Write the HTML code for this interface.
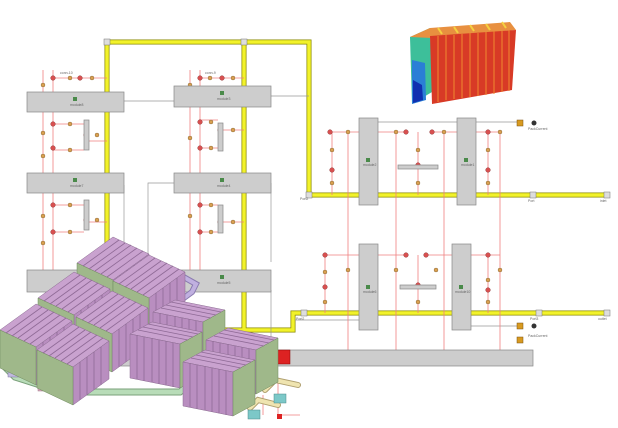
<!DOCTYPE html>
<html><head><meta charset="utf-8"><style>
html,body{margin:0;padding:0;background:#fff;}
svg{display:block;font-family:"Liberation Sans",sans-serif;}
.t{font-size:3.5px;fill:#666;}
</style></head><body>
<svg width="618" height="428" viewBox="0 0 618 428" xmlns="http://www.w3.org/2000/svg">
<defs>
<g id="lb">
  <polygon points="0,0 36,-26 72,-9 36,17" fill="#c9a2cf" stroke="#8a6a90" stroke-width="0.5"/>
  <polygon points="36,17 72,-9 72,29 36,55" fill="#b98ec0" stroke="#8a6a90" stroke-width="0.5"/>
  <polygon points="0,0 36,17 36,55 0,38" fill="#9fb88a" stroke="#6f8a5e" stroke-width="0.5"/>
  <g stroke="#8f6a96" stroke-width="0.8">
    <line x1="6" y1="3" x2="42" y2="-23"/><line x1="12" y1="6" x2="48" y2="-20"/>
    <line x1="18" y1="8" x2="54" y2="-18"/><line x1="24" y1="11" x2="60" y2="-15"/>
    <line x1="30" y1="14" x2="66" y2="-12"/>
    <line x1="43" y1="12" x2="43" y2="50"/><line x1="50" y1="7" x2="50" y2="45"/>
    <line x1="57" y1="2" x2="57" y2="40"/><line x1="64" y1="-3" x2="64" y2="35"/>
  </g>
</g>
<g id="rb">
  <polygon points="0,0 50,10 28,22 -22,12" fill="#c9a2cf" stroke="#8a6a90" stroke-width="0.5"/>
  <polygon points="-22,12 28,22 28,66 -22,56" fill="#b98ec0" stroke="#8a6a90" stroke-width="0.5"/>
  <polygon points="50,10 28,22 28,66 50,54" fill="#9fb88a" stroke="#6f8a5e" stroke-width="0.5"/>
  <g stroke="#8f6a96" stroke-width="0.8">
    <line x1="-4" y1="2" x2="46" y2="12"/><line x1="-9" y1="5" x2="41" y2="15"/>
    <line x1="-14" y1="8" x2="36" y2="18"/>
    <line x1="-15" y1="13" x2="-15" y2="57"/><line x1="-8" y1="15" x2="-8" y2="59"/>
    <line x1="0" y1="16" x2="0" y2="60"/><line x1="7" y1="18" x2="7" y2="62"/>
    <line x1="14" y1="19" x2="14" y2="63"/><line x1="21" y1="21" x2="21" y2="65"/>
  </g>
</g>
<g id="nd"><circle r="2" fill="#d9a050" stroke="#7a5a30" stroke-width="0.4"/></g>
<g id="rn"><circle r="2.3" fill="#d85050" stroke="#802020" stroke-width="0.4"/></g>
</defs>

<g stroke="#888800" stroke-width="5" fill="none"><path d="M107,42 H309 V195 H610"/><path d="M107,42 V262"/><path d="M244,42 V330"/><path d="M140,330 H293 V313 H610"/></g>
<g stroke="#f2f22a" stroke-width="3.5" fill="none"><path d="M107,42 H309 V195 H610"/><path d="M107,42 V262"/><path d="M244,42 V330"/><path d="M140,330 H293 V313 H610"/></g>
<g fill="#ddd" stroke="#777" stroke-width="0.5">
<rect x="104" y="39" width="6" height="6"/><rect x="241" y="39" width="6" height="6"/><rect x="306" y="192" width="6" height="6"/>
<rect x="530" y="192" width="6" height="6"/><rect x="604" y="192" width="6" height="6"/><rect x="301" y="310" width="6" height="6"/>
<rect x="536" y="310" width="6" height="6"/><rect x="604" y="310" width="6" height="6"/></g>

<g stroke="#999" stroke-width="0.7" fill="none">
<path d="M124,101 H174"/><path d="M271,96 H309"/><path d="M124,185 V260"/><path d="M148,266 V183 H174"/><path d="M271,183 V262"/>
<path d="M271,290 V355"/><path d="M378,122 H457"/><path d="M476,122 H520"/><path d="M471,326 H520"/><path d="M295,320 H359"/>
</g>

<g stroke="#f08080" stroke-width="0.8" fill="none">
<path d="M43,70 V270"/><path d="M53,70 V92 M53,112 V173 M53,193 V270"/>
<path d="M190,70 V270"/><path d="M200,70 V86 M200,107 V173 M200,193 V270"/>
<path d="M53,78 H107"/><path d="M200,78 H244"/>
<path d="M53,124 H84 M89,141 H107 M53,150 H84"/><path d="M53,205 H84 M89,222 H107 M53,232 H84"/>
<path d="M200,120 H218 M223,130 H244 M200,148 H218"/><path d="M200,205 H218 M223,222 H244 M200,232 H218"/>
<path d="M348,132 V350"/><path d="M396,132 V350"/><path d="M444,132 V350"/><path d="M500,132 V350"/>
<path d="M330,132 H359 M378,132 H406 M432,132 H457 M476,132 H500"/>
<path d="M332,132 V195 M418,132 V165 M418,169 V195 M488,132 V195"/>
<path d="M325,255 H359 M378,255 H406 M426,255 H452 M471,255 H500"/>
<path d="M325,255 V313 M418,255 V285 M418,289 V313 M488,255 V313"/>
<path d="M263,395 V415 M278,380 V415 H300"/>
</g>
<g>
<use href="#rn" x="53" y="78"/><use href="#nd" x="70" y="78"/><use href="#rn" x="80" y="78"/><use href="#nd" x="92" y="78"/><use href="#nd" x="43" y="85"/>
<use href="#rn" x="53" y="124"/><use href="#nd" x="70" y="124"/><use href="#rn" x="86" y="135"/><use href="#nd" x="97" y="135"/><use href="#nd" x="43" y="133"/><use href="#rn" x="53" y="148"/><use href="#nd" x="70" y="150"/><use href="#nd" x="43" y="156"/>
<use href="#rn" x="53" y="205"/><use href="#nd" x="70" y="205"/><use href="#rn" x="86" y="220"/><use href="#nd" x="97" y="220"/><use href="#nd" x="43" y="216"/><use href="#rn" x="53" y="232"/><use href="#nd" x="70" y="232"/><use href="#nd" x="43" y="243"/>
<use href="#rn" x="200" y="78"/><use href="#nd" x="210" y="78"/><use href="#rn" x="222" y="78"/><use href="#nd" x="233" y="78"/><use href="#nd" x="190" y="85"/>
<use href="#rn" x="200" y="122"/><use href="#nd" x="211" y="122"/><use href="#rn" x="220" y="130"/><use href="#nd" x="233" y="130"/><use href="#rn" x="200" y="148"/><use href="#nd" x="211" y="148"/><use href="#nd" x="190" y="138"/>
<use href="#rn" x="200" y="205"/><use href="#nd" x="211" y="205"/><use href="#rn" x="220" y="222"/><use href="#nd" x="233" y="222"/><use href="#rn" x="200" y="232"/><use href="#nd" x="211" y="232"/><use href="#nd" x="190" y="216"/>
<use href="#rn" x="330" y="132"/><use href="#nd" x="348" y="132"/><use href="#nd" x="332" y="150"/><use href="#rn" x="332" y="170"/><use href="#nd" x="332" y="183"/>
<use href="#nd" x="396" y="132"/><use href="#rn" x="406" y="132"/><use href="#rn" x="432" y="132"/><use href="#nd" x="444" y="132"/><use href="#nd" x="418" y="150"/><use href="#rn" x="418" y="165"/><use href="#nd" x="418" y="183"/>
<use href="#rn" x="488" y="132"/><use href="#nd" x="500" y="132"/><use href="#nd" x="488" y="150"/><use href="#rn" x="488" y="170"/><use href="#nd" x="488" y="183"/>
<use href="#rn" x="325" y="255"/><use href="#nd" x="348" y="270"/><use href="#nd" x="325" y="272"/><use href="#rn" x="325" y="287"/><use href="#nd" x="325" y="302"/>
<use href="#nd" x="396" y="270"/><use href="#rn" x="406" y="255"/><use href="#rn" x="426" y="255"/><use href="#nd" x="436" y="270"/><use href="#rn" x="418" y="285"/><use href="#nd" x="418" y="302"/>
<use href="#rn" x="488" y="255"/><use href="#nd" x="500" y="270"/><use href="#nd" x="488" y="280"/><use href="#rn" x="488" y="290"/><use href="#nd" x="488" y="302"/>
</g>

<g fill="#cdcdcd" stroke="#888" stroke-width="0.7">
<rect x="27" y="92" width="97" height="20"/><rect x="174" y="86" width="97" height="21"/>
<rect x="27" y="173" width="97" height="20"/><rect x="174" y="173" width="97" height="20"/>
<rect x="27" y="270" width="244" height="22"/>
<rect x="90" y="350" width="443" height="16"/>
<rect x="359" y="118" width="19" height="87"/><rect x="457" y="118" width="19" height="87"/>
<rect x="359" y="244" width="19" height="86"/><rect x="452" y="244" width="19" height="86"/>
<rect x="398" y="165" width="40" height="4"/><rect x="400" y="285" width="36" height="4"/>
<rect x="84" y="120" width="5" height="30"/><rect x="84" y="200" width="5" height="30"/>
<rect x="218" y="123" width="5" height="28"/><rect x="218" y="205" width="5" height="28"/>
</g>
<g fill="#4a8a4a"><rect x="73" y="97" width="4" height="4"/><rect x="220" y="91" width="4" height="4"/><rect x="73" y="178" width="4" height="4"/><rect x="220" y="178" width="4" height="4"/><rect x="220" y="275" width="4" height="4"/><rect x="366" y="158" width="4" height="4"/><rect x="464" y="158" width="4" height="4"/><rect x="366" y="285" width="4" height="4"/><rect x="459" y="285" width="4" height="4"/></g>
<g class="t">
<text x="70" y="106">module8</text><text x="217" y="100">module3</text><text x="70" y="187">module7</text><text x="217" y="187">module4</text><text x="217" y="284">module5</text>
<text x="363" y="166">module2</text><text x="461" y="166">module1</text><text x="363" y="293">module6</text><text x="455" y="293">module10</text>
<text x="60" y="74">conn-10</text><text x="205" y="74">conn-9</text><text x="300" y="200">Port2</text><text x="528" y="202">Port</text><text x="600" y="202">inlet</text>
<text x="296" y="320">Port2</text><text x="530" y="320">Port3</text><text x="598" y="320">outlet</text>
<text x="528" y="130">PackCurrent</text><text x="528" y="337">PackCurrent</text>
</g>
<g fill="#d89a20" stroke="#7a5010" stroke-width="0.5"><rect x="517" y="120" width="6" height="6"/><rect x="517" y="323" width="6" height="6"/><rect x="517" y="337" width="6" height="6"/></g>
<circle cx="534" cy="123" r="2.5" fill="#333"/><circle cx="534" cy="326" r="2.5" fill="#333"/>

<polygon points="410,37 430,28 432,92 412,104" fill="#3dbf9a"/>
<polygon points="412,60 425,63 426,100 412,104" fill="#2a7fd6"/>
<polygon points="413,80 422,85 423,100 413,103" fill="#1030b0"/>
<polygon points="410,37 430,28 510,22 516,30 432,38" fill="#e89040"/>
<polygon points="430,36 516,30 512,90 432,104" fill="#d83a26"/>
<g stroke="#f08a30" stroke-width="1">
<line x1="438" y1="36" x2="438" y2="102"/><line x1="446" y1="35" x2="446" y2="100"/><line x1="454" y1="35" x2="454" y2="99"/>
<line x1="462" y1="34" x2="462" y2="98"/><line x1="470" y1="33" x2="470" y2="97"/><line x1="478" y1="33" x2="478" y2="96"/>
<line x1="486" y1="32" x2="486" y2="95"/><line x1="494" y1="31" x2="494" y2="94"/><line x1="502" y1="31" x2="502" y2="92"/><line x1="509" y1="30" x2="509" y2="91"/>
</g>
<g stroke="#f4d040" stroke-width="2"><line x1="438" y1="28" x2="442" y2="34"/><line x1="454" y1="27" x2="458" y2="33"/><line x1="470" y1="25" x2="474" y2="31"/><line x1="486" y1="24" x2="490" y2="30"/><line x1="502" y1="22" x2="506" y2="28"/></g>

<rect x="276" y="350" width="14" height="14" fill="#d22" stroke="#800" stroke-width="0.5"/>
<rect x="277" y="414" width="5" height="5" fill="#d22"/>

<g fill="none" stroke-linecap="round">
<path d="M5,367 L15,377 L40,385 L70,392 L180,392 L195,380 L200,368" stroke="#7aa07a" stroke-width="7"/>
<path d="M5,367 L15,377 L40,385 L70,392 L180,392 L195,380 L200,368" stroke="#b8dcb8" stroke-width="5"/>
<path d="M125,345 L140,330 L192,292 L196,284 L180,275" stroke="#8a7ab0" stroke-width="6"/>
<path d="M125,345 L140,330 L192,292 L196,284 L180,275" stroke="#c0b0e0" stroke-width="4"/>
<path d="M265,390 L275,380 L298,385" stroke="#b0a070" stroke-width="6"/><path d="M265,390 L275,380 L298,385" stroke="#efe4b0" stroke-width="4"/>
<path d="M250,408 L258,400 L278,405" stroke="#b0a070" stroke-width="6"/><path d="M250,408 L258,400 L278,405" stroke="#efe4b0" stroke-width="4"/>
</g>
<rect x="8" y="370" width="14" height="7" fill="#c0b8e0" stroke="#8078a0" stroke-width="0.5"/>
<rect x="36" y="378" width="14" height="7" fill="#e0b8c8" stroke="#a07888" stroke-width="0.5"/>
<rect x="38" y="383" width="14" height="8" fill="#d8a8bc" stroke="#a07888" stroke-width="0.5"/>
<rect x="274" y="394" width="12" height="9" fill="#7cc8c8" stroke="#4a8a8a" stroke-width="0.5"/>
<rect x="248" y="410" width="12" height="9" fill="#7cc8c8" stroke="#4a8a8a" stroke-width="0.5"/>

<use href="#lb" x="77" y="263"/>
<use href="#lb" x="113" y="281"/>
<use href="#lb" x="38" y="298"/>
<use href="#lb" x="76" y="317"/>
<use href="#lb" x="0" y="330"/>
<use href="#lb" x="37" y="350"/>
<use href="#rb" x="175" y="300"/>
<use href="#rb" x="228" y="328"/>
<use href="#rb" x="152" y="322"/>
<use href="#rb" x="205" y="350"/>
</svg>
</body></html>
